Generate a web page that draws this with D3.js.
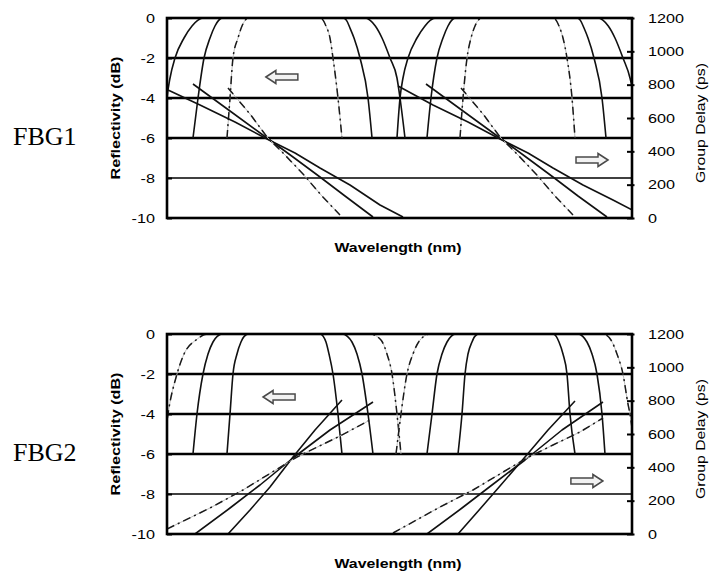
<!DOCTYPE html>
<html>
<head>
<meta charset="utf-8">
<script src="https://cdn.jsdelivr.net/npm/d3@7"></script>
<style>
  html, body { margin: 0; padding: 0; background: #fff; }
  svg { display: block; }
</style>
</head>
<body>
<svg id="fig" width="709" height="575"></svg>
<script>
// Relative wavelength across the window (0-100), reflectivity in dB, group delay in ps.
const reflTicks = [0, -2, -4, -6, -8, -10];
const delayTicks = [0, 200, 400, 600, 800, 1000, 1200];
const gridLevels = [-2, -4, -6, -8];

// FBG1 reflectivity, [wavelength, dB]; A and B solid, C dash-dot; 1 and 2 are the two channels
const fbg1ReflA1 = [[-0.65,-6],[0,-4],[0.65,-3],[1.72,-2],[3.66,-1],[5.38,-0.4],[6.6,-0.12],[7.8,0],[42.6,0],[43.7,-0.12],[44.8,-0.4],[46.24,-1],[47.96,-2],[49.46,-3],[50.11,-4],[51.18,-6]];
const fbg1ReflA2 = [[49.46,-6],[50.11,-4],[50.75,-3],[51.83,-2],[53.76,-1],[55.48,-0.4],[56.6,-0.12],[57.9,0],[92.7,0],[93.8,-0.12],[94.9,-0.4],[96.34,-1],[98.06,-2],[99.57,-3],[100.43,-4],[101.29,-6]];
const fbg1ReflB1 = [[5.59,-6],[6.67,-4],[7.96,-2],[9.25,-1],[10.32,-0.4],[11.1,-0.12],[12.0,0],[37.85,0],[38.6,-0.12],[39.35,-0.5],[40.22,-1],[41.51,-2],[43.23,-4],[44.09,-6]];
const fbg1ReflB2 = [[55.91,-6],[56.77,-4],[58.06,-2],[59.35,-1],[60.43,-0.4],[61.2,-0.12],[62.1,0],[88.17,0],[88.9,-0.12],[89.68,-0.5],[90.54,-1],[91.83,-2],[93.55,-4],[94.41,-6]];
const fbg1ReflC1 = [[12.90,-6],[13.55,-4],[14.19,-2],[15.27,-1],[16.13,-0.4],[16.8,-0.12],[17.6,0],[32.90,0],[33.6,-0.12],[34.19,-0.4],[35.05,-1],[35.70,-2],[36.77,-4],[37.63,-6]];
const fbg1ReflC2 = [[63.01,-6],[63.66,-4],[64.52,-2],[65.38,-1],[66.24,-0.4],[66.9,-0.12],[67.9,0],[83.01,0],[83.7,-0.12],[84.30,-0.4],[85.16,-1],[86.02,-2],[87.10,-4],[87.74,-6]];

// FBG1 group delay, [wavelength, ps]
const fbg1DelayA1 = [[0.22,768],[7.10,678],[14.62,576],[21.51,474],[27.53,390],[32.90,300],[39.35,198],[45.81,78],[50.75,6]];
const fbg1DelayA2 = [[49.68,792],[57.20,678],[64.73,576],[71.61,474],[77.63,390],[83.01,300],[89.46,198],[95.91,108],[100.43,42]];
const fbg1DelayB1 = [[5.59,804],[13.55,642],[21.51,480],[27.10,366],[32.90,246],[38.28,132],[44.30,6]];
const fbg1DelayB2 = [[55.70,804],[63.66,642],[71.61,480],[77.20,366],[83.01,246],[88.39,132],[94.62,6]];
const fbg1DelayC1 = [[13.12,780],[17.85,624],[21.51,486],[25.38,378],[29.25,264],[33.33,132],[37.20,18]];
const fbg1DelayC2 = [[63.23,780],[67.96,624],[71.61,486],[75.48,378],[79.35,264],[83.44,132],[87.31,18]];

// FBG2 reflectivity
const fbg2ReflA1 = [[5.59,-6],[6.45,-4],[7.74,-2],[8.82,-1],[9.89,-0.4],[10.8,-0.12],[12.0,0],[37.63,0],[38.8,-0.12],[39.78,-0.4],[40.86,-1],[41.94,-2],[43.23,-4],[44.30,-6]];
const fbg2ReflA2 = [[55.91,-6],[56.99,-4],[58.06,-2],[59.14,-1],[60.22,-0.4],[61.1,-0.12],[62.1,0],[88.39,0],[89.4,-0.12],[90.32,-0.4],[91.40,-1],[92.47,-2],[93.55,-4],[94.19,-6]];
const fbg2ReflB1 = [[12.90,-6],[13.55,-4],[14.19,-2],[15.05,-1],[15.91,-0.4],[16.6,-0.12],[17.6,0],[32.90,0],[33.6,-0.12],[34.19,-0.4],[34.84,-1],[35.70,-2],[36.77,-4],[37.63,-6]];
const fbg2ReflB2 = [[62.58,-6],[63.44,-4],[64.09,-2],[64.73,-1],[65.59,-0.4],[66.2,-0.12],[67.1,0],[83.01,0],[83.7,-0.12],[84.30,-0.4],[85.16,-1],[86.02,-2],[86.67,-4],[87.74,-6]];
const fbg2ReflC1 = [[-0.86,-6],[0.22,-4],[2.15,-2],[3.66,-1],[6.24,-0.3],[8.82,0],[43.66,0],[46.02,-0.3],[47.31,-1],[48.39,-2],[49.46,-4],[50.32,-6]];
const fbg2ReflC2 = [[49.25,-6],[50.32,-4],[51.61,-2],[52.90,-1],[54.41,-0.3],[56.56,0],[93.76,0],[95.48,-0.3],[96.77,-1],[98.06,-2],[99.14,-3.5],[99.57,-4],[100.65,-6]];

// FBG2 group delay
const fbg2DelayA1 = [[13.12,0],[17.85,144],[22.15,282],[27.10,462],[31.83,624],[37.63,804]];
const fbg2DelayA2 = [[62.58,0],[67.31,150],[71.61,288],[76.99,462],[81.94,624],[87.74,798]];
const fbg2DelayB1 = [[6.02,0],[13.55,156],[20.00,294],[27.10,456],[35.05,624],[44.30,792]];
const fbg2DelayB2 = [[55.91,0],[63.44,156],[69.89,294],[76.99,444],[84.95,624],[93.76,792]];
const fbg2DelayC1 = [[0,30],[9.25,156],[16.34,264],[27.96,462],[37.20,588],[43.66,684]];
const fbg2DelayC2 = [[48.60,6],[58.71,162],[65.81,264],[76.99,450],[83.01,534],[88.82,612],[93.76,696]];

// Axis-pointer arrows: [wavelength, dB] for the reflectivity one, [wavelength, ps] for the delay one
const fbg1ArrowRefl = [24.7, -2.95];
const fbg1ArrowDelay = [91.4, 348];
const fbg2ArrowRefl = [24.1, -3.15];
const fbg2ArrowDelay = [90.3, 318];

const panels = [
  { name: "FBG1", top: 18,
    refl: [[fbg1ReflA1,"solid"],[fbg1ReflA2,"solid"],[fbg1ReflB1,"solid"],[fbg1ReflB2,"solid"],[fbg1ReflC1,"dash"],[fbg1ReflC2,"dash"]],
    delay: [[fbg1DelayA1,"solid"],[fbg1DelayA2,"solid"],[fbg1DelayB1,"solid"],[fbg1DelayB2,"solid"],[fbg1DelayC1,"dash"],[fbg1DelayC2,"dash"]],
    arrowRefl: fbg1ArrowRefl, arrowDelay: fbg1ArrowDelay },
  { name: "FBG2", top: 334,
    refl: [[fbg2ReflA1,"solid"],[fbg2ReflA2,"solid"],[fbg2ReflB1,"solid"],[fbg2ReflB2,"solid"],[fbg2ReflC1,"dash"],[fbg2ReflC2,"dash"]],
    delay: [[fbg2DelayA1,"solid"],[fbg2DelayA2,"solid"],[fbg2DelayB1,"solid"],[fbg2DelayB2,"solid"],[fbg2DelayC1,"dash"],[fbg2DelayC2,"dash"]],
    arrowRefl: fbg2ArrowRefl, arrowDelay: fbg2ArrowDelay }
];

const L = 167, R = 632, H = 200;
const SANS = "'Liberation Sans', Arial, sans-serif";
const STRETCH = 1.2;

const svg = d3.select("#fig");
svg.append("rect").attr("width", 709).attr("height", 575).attr("fill", "#fff");

const x = d3.scaleLinear().domain([0, 100]).range([L, R]);

// block arrow outline, pointing left, centred on 0,0
const arrowPts = [[-16,0],[-6,-6.5],[-6,-3],[16,-3],[16,3],[-6,3],[-6,6.5]];

panels.forEach((p, i) => {
  const g = svg.append("g").attr("transform", `translate(0,${p.top})`);
  const yR = d3.scaleLinear().domain([-10, 0]).range([H, 0]);
  const yD = d3.scaleLinear().domain([0, 1200]).range([H, 0]);

  const clipId = `plotclip-${i}`;
  g.append("clipPath").attr("id", clipId)
    .append("rect").attr("x", L).attr("y", 0).attr("width", R - L).attr("height", H);

  // horizontal reference lines
  g.selectAll("line.grid").data(gridLevels).join("line")
    .attr("class", "grid")
    .attr("x1", L).attr("x2", R)
    .attr("y1", d => yR(d)).attr("y2", d => yR(d))
    .attr("stroke", "#000")
    .attr("stroke-width", d => d === -8 ? 1.5 : 2.6);

  const plot = g.append("g").attr("clip-path", `url(#${clipId})`);

  const reflLine = d3.line().x(d => x(d[0])).y(d => yR(d[1])).curve(d3.curveMonotoneX);
  const delayLine = d3.line().x(d => x(d[0])).y(d => yD(d[1])).curve(d3.curveLinear);

  const drawSeries = (list, gen) => {
    list.forEach(([data, style]) => {
      if (style === "dash") {
        plot.append("path").attr("d", gen(data))
          .attr("fill", "none").attr("stroke", "#b5b5b5").attr("stroke-width", 0.9);
        plot.append("path").attr("d", gen(data))
          .attr("fill", "none").attr("stroke", "#1a1a1a").attr("stroke-width", 1.5)
          .attr("stroke-dasharray", "8,4,2,4");
      } else {
        plot.append("path").attr("d", gen(data))
          .attr("fill", "none").attr("stroke", "#111").attr("stroke-width", 1.6)
          .attr("stroke-linejoin", "round");
      }
    });
  };
  drawSeries(p.refl, reflLine);
  drawSeries(p.delay, delayLine);

  // plot frame
  g.append("rect").attr("x", L).attr("y", 0).attr("width", R - L).attr("height", H)
    .attr("fill", "none").attr("stroke", "#000").attr("stroke-width", 2.6);

  // left axis: reflectivity
  const axL = g.append("g").attr("transform", `translate(${L},0)`)
    .call(d3.axisLeft(yR).tickValues(reflTicks).tickFormat(d => String(d))
      .tickSizeInner(-5).tickSizeOuter(0).tickPadding(12));
  axL.select(".domain").remove();
  axL.selectAll("line").attr("stroke", "#000").attr("stroke-width", 2);
  axL.selectAll("text")
    .attr("font-family", SANS).attr("font-size", 13.5).attr("fill", "#000")
    .attr("x", -12 / STRETCH).attr("transform", `scale(${STRETCH},1)`);

  // right axis: group delay
  const axR = g.append("g").attr("transform", `translate(${R},0)`)
    .call(d3.axisRight(yD).tickValues(delayTicks).tickFormat(d => String(d))
      .tickSizeInner(-5).tickSizeOuter(0).tickPadding(16));
  axR.select(".domain").remove();
  axR.selectAll("line").attr("x1", 2.5).attr("stroke", "#000").attr("stroke-width", 2);
  axR.selectAll("text")
    .attr("font-family", SANS).attr("font-size", 13.5).attr("fill", "#000")
    .attr("x", 16 / STRETCH).attr("transform", `scale(${STRETCH},1)`);

  // axis titles
  g.append("text")
    .attr("transform", `translate(120,${H / 2}) rotate(-90)`)
    .attr("text-anchor", "middle").attr("font-family", SANS).attr("font-weight", "bold")
    .attr("font-size", 13).attr("textLength", 123).attr("lengthAdjust", "spacingAndGlyphs")
    .text("Reflectivity (dB)");

  g.append("text")
    .attr("transform", `translate(705,${H / 2 + 5}) rotate(-90)`)
    .attr("text-anchor", "middle").attr("font-family", SANS)
    .attr("font-size", 13).attr("textLength", 120).attr("lengthAdjust", "spacingAndGlyphs")
    .text("Group Delay (ps)");

  g.append("text")
    .attr("x", 398).attr("y", H + 34)
    .attr("text-anchor", "middle").attr("font-family", SANS).attr("font-weight", "bold")
    .attr("font-size", 13).attr("textLength", 127).attr("lengthAdjust", "spacingAndGlyphs")
    .text("Wavelength (nm)");

  // grating name
  g.append("text")
    .attr("x", 13).attr("y", 127)
    .attr("font-family", "'Liberation Serif', 'Times New Roman', serif")
    .attr("font-size", 26).attr("fill", "#000")
    .text(p.name);

  // arrows showing which axis each curve family uses
  const arrowPath = d3.line()(arrowPts) + "Z";
  g.append("path").attr("d", arrowPath)
    .attr("transform", `translate(${x(p.arrowRefl[0])},${yR(p.arrowRefl[1])})`)
    .attr("fill", "#f2f2f2").attr("stroke", "#4a4a4a").attr("stroke-width", 1.5)
    .attr("stroke-linejoin", "miter");
  g.append("path").attr("d", arrowPath)
    .attr("transform", `translate(${x(p.arrowDelay[0])},${yD(p.arrowDelay[1])}) scale(-1,1)`)
    .attr("fill", "#f2f2f2").attr("stroke", "#4a4a4a").attr("stroke-width", 1.5)
    .attr("stroke-linejoin", "miter");
});
</script>
</body>
</html>
